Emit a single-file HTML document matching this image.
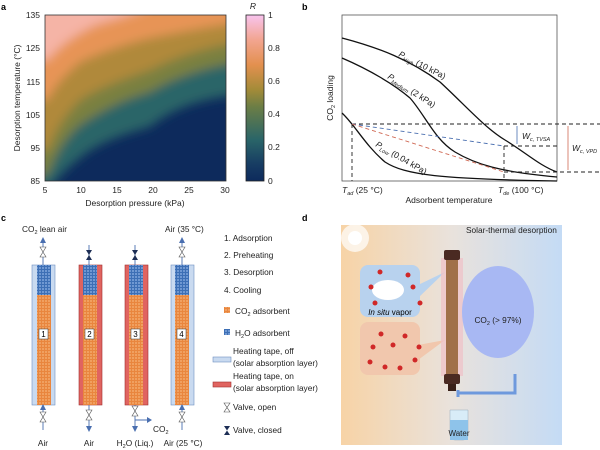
<!DOCTYPE html>
<html><head><meta charset="utf-8"><style>
body{margin:0;background:#fff}
svg{display:block;font-family:"Liberation Sans",Arial,sans-serif}
</style></head><body>
<svg width="600" height="450" viewBox="0 0 600 450" xmlns="http://www.w3.org/2000/svg">
<defs>
<filter id="bl" x="-10%" y="-10%" width="120%" height="120%"><feGaussianBlur stdDeviation="5"/></filter>
<clipPath id="ca"><rect x="45" y="15" width="181" height="166"/></clipPath>
<linearGradient id="cb" x1="0" y1="1" x2="0" y2="0">
<stop offset="0" stop-color="#0d2a5c"/><stop offset="0.1" stop-color="#173c63"/><stop offset="0.25" stop-color="#2a6568"/>
<stop offset="0.45" stop-color="#6d7e45"/><stop offset="0.55" stop-color="#a38b38"/><stop offset="0.7" stop-color="#e3904f"/>
<stop offset="0.85" stop-color="#f2a590"/><stop offset="1" stop-color="#f8c4ee"/></linearGradient>
<linearGradient id="dbg" x1="0" y1="0" x2="1" y2="0"><stop offset="0" stop-color="#f7d3a6"/><stop offset="0.5" stop-color="#e9e2dc"/><stop offset="1" stop-color="#c4dbf5"/></linearGradient>
<pattern id="og" width="3" height="3" patternUnits="userSpaceOnUse"><rect width="3" height="3" fill="#e9863e"/><rect width="2" height="2" fill="#f0a060"/></pattern>
<pattern id="bg" width="3" height="3" patternUnits="userSpaceOnUse"><rect width="3" height="3" fill="#3d6fb5"/><rect width="2" height="2" fill="#6f98d2"/></pattern>
<marker id="ab" markerWidth="6" markerHeight="6" refX="3" refY="3" orient="auto"><path d="M0,0 L6,3 L0,6z" fill="#4a6fb0"/></marker>
</defs>
<!-- Panel a -->
<text x="1" y="10" font-size="9" font-weight="bold">a</text>
<g clip-path="url(#ca)">
<rect x="45" y="15" width="181" height="166" fill="#0d2a5c"/>
<g filter="url(#bl)">
<path d="M30,0 L240,0 L240,95 C200,98 170,110 150,127 C120,135 95,145 80,158 C65,170 55,180 50,190 L30,190z" fill="#2a6568"/>
<path d="M30,0 L240,0 L240,62 C200,68 170,80 150,92 C120,100 95,115 80,125 C65,138 55,155 48,175 L30,175z" fill="#7a8040"/>
<path d="M30,0 L240,0 L240,42 C200,48 170,60 150,70 C120,80 95,90 80,100 C65,115 55,130 48,150 L30,150z" fill="#b0893a"/>
<path d="M30,0 L240,0 L240,22 C200,28 170,34 150,38 C120,45 95,55 80,62 C65,75 55,85 48,100 L30,100z" fill="#e79456"/>
<path d="M30,0 L160,0 C140,14 110,20 95,25 C75,35 60,45 48,60 L30,60z" fill="#f5b4a6"/>
</g></g>
<rect x="45" y="15" width="181" height="166" fill="none" stroke="#333" stroke-width="0.8"/>
<g font-size="8.5" fill="#222">
<text x="40" y="18" text-anchor="end">135</text><text x="40" y="51" text-anchor="end">125</text>
<text x="40" y="85" text-anchor="end">115</text><text x="40" y="118" text-anchor="end">105</text>
<text x="40" y="151" text-anchor="end">95</text><text x="40" y="184" text-anchor="end">85</text>
<text x="45" y="193" text-anchor="middle">5</text><text x="81" y="193" text-anchor="middle">10</text>
<text x="117" y="193" text-anchor="middle">15</text><text x="153" y="193" text-anchor="middle">20</text>
<text x="189" y="193" text-anchor="middle">25</text><text x="225" y="193" text-anchor="middle">30</text>
<text x="135" y="206" text-anchor="middle">Desorption pressure (kPa)</text>
<text transform="translate(20,98) rotate(-90)" text-anchor="middle">Desorption temperature (°C)</text>
<text x="253" y="9" font-style="italic" text-anchor="middle">R</text>
<text x="268" y="18">1</text><text x="268" y="51">0.8</text><text x="268" y="84">0.6</text>
<text x="268" y="117">0.4</text><text x="268" y="150">0.2</text><text x="268" y="184">0</text>
</g>
<rect x="246" y="15" width="18" height="166" fill="url(#cb)" stroke="#222" stroke-width="0.8"/>
<!-- Panel b -->
<text x="302" y="10" font-size="9" font-weight="bold">b</text>
<rect x="342" y="15" width="215" height="166" fill="none" stroke="#555" stroke-width="0.8"/>
<g fill="none" stroke="#111" stroke-width="1.3">
<path d="M342,38 C380,48 410,60 440,82 C465,105 485,128 505,140 C525,152 540,166 557,172"/>
<path d="M342,58 C370,70 395,85 410,98 C425,115 435,140 455,152 C475,164 500,172 557,177"/>
<path d="M342,113 C355,125 365,145 385,162 C405,175 440,179 557,181"/>
</g>
<g fill="none" stroke-dasharray="4,3" stroke-width="0.9">
<path d="M352,124 H600 M352,124 V181 M504,146 H557 M504,146 V181 M504,172 H600" stroke="#222"/>
<path d="M352,124 L504,146" stroke="#4a6fb0"/>
<path d="M352,124 L504,172" stroke="#d06a55"/>
</g>
<path d="M517,126 V144" stroke="#4a6fb0" stroke-width="0.8"/>
<path d="M568,126 V170" stroke="#d06a55" stroke-width="0.8"/>
<g font-size="8.5" fill="#222">
<text x="522" y="139" font-style="italic">W<tspan font-size="5.5" dy="2">c, TVSA</tspan></text>
<text x="572" y="151" font-style="italic">W<tspan font-size="5.5" dy="2">c, VPD</tspan></text>
<text x="342" y="193"><tspan font-style="italic">T</tspan><tspan font-size="5.5" dy="2" font-style="italic">ad</tspan><tspan dy="-2"> (25 °C)</tspan></text>
<text x="498" y="193"><tspan font-style="italic">T</tspan><tspan font-size="5.5" dy="2" font-style="italic">de</tspan><tspan dy="-2"> (100 °C)</tspan></text>
<text x="449" y="203" text-anchor="middle">Adsorbent temperature</text>
<text transform="translate(333,98) rotate(-90)" text-anchor="middle">CO<tspan font-size="5.5" dy="2">2</tspan><tspan dy="-2"> loading</tspan></text>
<text transform="translate(398,56) rotate(27)"><tspan font-style="italic">P</tspan><tspan font-size="5.5" dy="2" font-style="italic">High</tspan><tspan dy="-2"> (10 kPa)</tspan></text>
<text transform="translate(387,78) rotate(33)"><tspan font-style="italic">P</tspan><tspan font-size="5.5" dy="2" font-style="italic">Medium</tspan><tspan dy="-2"> (2 kPa)</tspan></text>
<text transform="translate(375,146) rotate(30)"><tspan font-style="italic">P</tspan><tspan font-size="5.5" dy="2" font-style="italic">Low</tspan><tspan dy="-2"> (0.04 kPa)</tspan></text>
</g>
<!-- Panel c -->
<text x="1" y="221" font-size="9" font-weight="bold">c</text>
<g>
<rect x="32" y="265" width="23" height="140" fill="#c9daf0" stroke="#6f8fc0" stroke-width="0.6"/>
<rect x="37" y="265" width="14" height="30" fill="url(#bg)"/><rect x="37" y="295" width="14" height="110" fill="url(#og)"/>
<rect x="79" y="265" width="23" height="140" fill="#e06460" stroke="#a03030" stroke-width="0.6"/>
<rect x="83" y="265" width="14" height="30" fill="url(#bg)"/><rect x="83" y="295" width="14" height="110" fill="url(#og)"/>
<rect x="125" y="265" width="23" height="140" fill="#e06460" stroke="#a03030" stroke-width="0.6"/>
<rect x="129" y="265" width="14" height="30" fill="url(#bg)"/><rect x="129" y="295" width="14" height="110" fill="url(#og)"/>
<rect x="171" y="265" width="23" height="140" fill="#c9daf0" stroke="#6f8fc0" stroke-width="0.6"/>
<rect x="175" y="265" width="14" height="30" fill="url(#bg)"/><rect x="175" y="295" width="14" height="110" fill="url(#og)"/>
<g fill="#fff" stroke="#333" stroke-width="0.5"><rect x="39" y="329" width="9" height="10"/><rect x="85" y="329" width="9" height="10"/><rect x="131" y="329" width="9" height="10"/><rect x="177" y="329" width="9" height="10"/></g>
<g font-size="8" text-anchor="middle"><text x="43.5" y="337">1</text><text x="89.5" y="337">2</text><text x="135.5" y="337">3</text><text x="181.5" y="337">4</text></g>
<g stroke="#4a6fb0" stroke-width="0.9" fill="none">
<path d="M43,265 V240 M89,265 V245 M135,265 V245 M182,265 V240 M43,430 V405 M89,405 V430 M135,405 V430 M182,430 V405 M135,420 H148"/>
</g>
<g fill="#4a6fb0"><path d="M40,243 L43,237 L46,243z M179,243 L182,237 L185,243z M40,410 L43,404 L46,410z M179,410 L182,404 L185,410z M86,426 L89,432 L92,426z M132,426 L135,432 L138,426z M147,417 L152,420 L147,423z"/></g>
<g stroke="#555" stroke-width="0.6" fill="#fff"><path d="M40,247 L46,247 L40,257 L46,257z M179,247 L185,247 L179,257 L185,257z M40,412 L46,412 L40,422 L46,422z M179,412 L185,412 L179,422 L185,422z M86,410 L92,410 L86,420 L92,420z M132,406 L138,406 L132,416 L138,416z"/></g>
<g fill="#1d2e55"><path d="M86,250 L92,250 L86,260 L92,260z M132,250 L138,250 L132,260 L138,260z"/></g>
<g font-size="8.3" fill="#222">
<text x="22" y="232">CO<tspan font-size="5.5" dy="2">2</tspan><tspan dy="-2"> lean air</tspan></text>
<text x="165" y="232">Air (35 °C)</text>
<text x="43" y="446" text-anchor="middle">Air</text><text x="89" y="446" text-anchor="middle">Air</text>
<text x="135" y="446" text-anchor="middle">H<tspan font-size="5.5" dy="2">2</tspan><tspan dy="-2">O (Liq.)</tspan></text>
<text x="183" y="446" text-anchor="middle">Air (25 °C)</text>
<text x="153" y="432">CO<tspan font-size="5.5" dy="2">2</tspan></text>
<text x="224" y="241">1. Adsorption</text><text x="224" y="258">2. Preheating</text>
<text x="224" y="275">3. Desorption</text><text x="224" y="293">4. Cooling</text>
<text x="235" y="314">CO<tspan font-size="5.5" dy="2">2</tspan><tspan dy="-2"> adsorbent</tspan></text>
<text x="235" y="336">H<tspan font-size="5.5" dy="2">2</tspan><tspan dy="-2">O adsorbent</tspan></text>
<text x="233" y="354">Heating tape, off</text><text x="233" y="366">(solar absorption layer)</text>
<text x="233" y="379">Heating tape, on</text><text x="233" y="391">(solar absorption layer)</text>
<text x="233" y="410">Valve, open</text><text x="233" y="433">Valve, closed</text>
</g>
<rect x="224" y="307" width="6" height="6" fill="url(#og)"/><rect x="224" y="329" width="6" height="6" fill="url(#bg)"/>
<rect x="213" y="357" width="18" height="5" fill="#c9daf0" stroke="#6f8fc0" stroke-width="0.6"/>
<rect x="213" y="382" width="18" height="5" fill="#e06460" stroke="#a03030" stroke-width="0.6"/>
<path d="M224,403 L230,403 L224,412 L230,412z" fill="#fff" stroke="#555" stroke-width="0.6"/>
<path d="M224,426 L230,426 L224,435 L230,435z" fill="#1d2e55"/>
</g>
<!-- Panel d -->
<rect x="341" y="225" width="221" height="220" fill="url(#dbg)"/>
<text x="302" y="221" font-size="9" font-weight="bold">d</text>
<text x="466" y="233" font-size="8.3" fill="#222">Solar-thermal desorption</text>
<circle cx="355" cy="238" r="14" fill="#fff" opacity="0.7"/><circle cx="355" cy="238" r="7" fill="#fff"/>
<rect x="360" y="265" width="60" height="52" rx="8" fill="#b8d2ee"/>
<path d="M418,285 L445,272 L418,298z" fill="#b8d2ee"/>
<ellipse cx="388" cy="290" rx="16" ry="10" fill="#fff"/>
<text x="390" y="315" font-size="8" text-anchor="middle"><tspan font-style="italic">In situ</tspan> vapor</text>
<rect x="360" y="322" width="60" height="53" rx="8" fill="#f1c7ad"/>
<path d="M418,345 L445,340 L418,360z" fill="#f1c7ad"/>
<g fill="#d02828"><circle cx="380" cy="272" r="2.5"/><circle cx="408" cy="275" r="2.5"/><circle cx="371" cy="287" r="2.5"/><circle cx="413" cy="287" r="2.5"/><circle cx="375" cy="303" r="2.5"/><circle cx="420" cy="303" r="2.5"/>
<circle cx="381" cy="334" r="2.5"/><circle cx="405" cy="336" r="2.5"/><circle cx="373" cy="347" r="2.5"/><circle cx="393" cy="345" r="2.5"/><circle cx="419" cy="347" r="2.5"/><circle cx="370" cy="362" r="2.5"/><circle cx="385" cy="367" r="2.5"/><circle cx="400" cy="368" r="2.5"/><circle cx="415" cy="360" r="2.5"/></g>
<rect x="441" y="258" width="22" height="118" fill="#f0c0c8" opacity="0.7"/>
<rect x="446" y="258" width="12" height="118" fill="#a0704a"/>
<rect x="444" y="250" width="16" height="10" rx="2" fill="#4a2a22"/><rect x="444" y="374" width="16" height="10" rx="2" fill="#4a2a22"/>
<rect x="448" y="384" width="8" height="7" fill="#3a2018"/>
<path d="M458,390 V397 M458,393 H515 V374" fill="none" stroke="#6e99dd" stroke-width="3"/>
<ellipse cx="498" cy="312" rx="36" ry="46" fill="#a8b8f3"/>
<text x="498" y="323" font-size="8.3" text-anchor="middle" fill="#222">CO<tspan font-size="5.5" dy="2">2</tspan><tspan dy="-2"> (&gt; 97%)</tspan></text>
<path d="M450,410 H468 V435 Q468,440 463,440 H455 Q450,440 450,435z" fill="#d8ecf8" stroke="#9ab" stroke-width="0.5"/>
<rect x="450" y="420" width="18" height="20" fill="#8ec3ea"/>
<text x="459" y="436" font-size="8" text-anchor="middle" fill="#222">Water</text>
</svg>
</body></html>
